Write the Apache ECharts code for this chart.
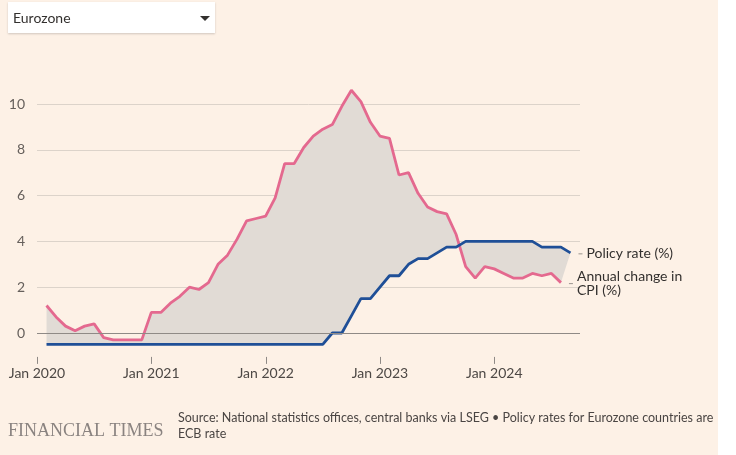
<!DOCTYPE html>
<html lang="en">

<head>
    <meta charset="UTF-8">
    <title>Eurozone policy rate vs CPI</title>
    <style>
        body {
            margin: 0;
            background: #fff;
        }

        #chart {
            width: 718px;
            height: 455px;
        }
    </style>
    <script src="https://cdn.jsdelivr.net/npm/echarts@6/dist/echarts.min.js"></script>
</head>

<body>
    <div id="chart"></div>
    <script>
        // months from Feb 2020 (x = 1, Jan 2020 = 0)
        var months = [
            'Feb 2020', 'Mar 2020', 'Apr 2020', 'May 2020', 'Jun 2020', 'Jul 2020', 'Aug 2020', 'Sep 2020', 'Oct 2020', 'Nov 2020', 'Dec 2020',
            'Jan 2021', 'Feb 2021', 'Mar 2021', 'Apr 2021', 'May 2021', 'Jun 2021', 'Jul 2021', 'Aug 2021', 'Sep 2021', 'Oct 2021', 'Nov 2021', 'Dec 2021',
            'Jan 2022', 'Feb 2022', 'Mar 2022', 'Apr 2022', 'May 2022', 'Jun 2022', 'Jul 2022', 'Aug 2022', 'Sep 2022', 'Oct 2022', 'Nov 2022', 'Dec 2022',
            'Jan 2023', 'Feb 2023', 'Mar 2023', 'Apr 2023', 'May 2023', 'Jun 2023', 'Jul 2023', 'Aug 2023', 'Sep 2023', 'Oct 2023', 'Nov 2023', 'Dec 2023',
            'Jan 2024', 'Feb 2024', 'Mar 2024', 'Apr 2024', 'May 2024', 'Jun 2024', 'Jul 2024', 'Aug 2024', 'Sep 2024'
        ];
        var cpi = [
            1.2, 0.7, 0.3, 0.1, 0.3, 0.4, -0.2, -0.3, -0.3, -0.3, -0.3,
            0.9, 0.9, 1.3, 1.6, 2.0, 1.9, 2.2, 3.0, 3.4, 4.1, 4.9, 5.0,
            5.1, 5.9, 7.4, 7.4, 8.1, 8.6, 8.9, 9.1, 9.9, 10.6, 10.1, 9.2,
            8.6, 8.5, 6.9, 7.0, 6.1, 5.5, 5.3, 5.2, 4.3, 2.9, 2.4, 2.9,
            2.8, 2.6, 2.4, 2.4, 2.6, 2.5, 2.6, 2.2
        ];
        var policy = [
            -0.5, -0.5, -0.5, -0.5, -0.5, -0.5, -0.5, -0.5, -0.5, -0.5, -0.5,
            -0.5, -0.5, -0.5, -0.5, -0.5, -0.5, -0.5, -0.5, -0.5, -0.5, -0.5, -0.5,
            -0.5, -0.5, -0.5, -0.5, -0.5, -0.5, -0.5, 0, 0, 0.75, 1.5, 1.5,
            2.0, 2.5, 2.5, 3.0, 3.25, 3.25, 3.5, 3.75, 3.75, 4.0, 4.0, 4.0,
            4.0, 4.0, 4.0, 4.0, 4.0, 3.75, 3.75, 3.75, 3.5
        ];
        var xTicks = [0, 12, 24, 36, 48];
        var xTickLabels = ['Jan 2020', 'Jan 2021', 'Jan 2022', 'Jan 2023', 'Jan 2024'];
        var yTicks = [0, 2, 4, 6, 8, 10];

        var font = 'Lato, "Liberation Sans", sans-serif';

        function toPoints(arr) {
            return arr.map(function (v, i) {
                return [i + 1, v];
            });
        }

        var chart = echarts.init(document.getElementById('chart'));
        chart.setOption({
            backgroundColor: '#fdf1e6',
            animation: false,
            grid: {
                left: 37,
                right: 138,
                top: 58.2,
                bottom: 76.2
            },
            xAxis: {
                type: 'value',
                min: 0,
                max: 57,
                interval: 12,
                offset: -22,
                axisLine: { show: false },
                splitLine: { show: false },
                axisTick: { show: false },
                axisLabel: {
                    margin: 10,
                    customValues: xTicks,
                    color: '#4d4845',
                    fontSize: 14,
                    fontFamily: font,
                    formatter: function (v) {
                        var k = xTicks.indexOf(v);
                        return k >= 0 ? xTickLabels[k] : '';
                    }
                }
            },
            yAxis: {
                type: 'value',
                min: -2,
                max: 12,
                interval: 2,
                axisLine: { show: false },
                axisTick: { show: false },
                axisLabel: {
                    margin: 12,
                    color: '#66605c',
                    fontSize: 14,
                    fontFamily: font,
                    formatter: function (v) {
                        return yTicks.indexOf(v) >= 0 ? String(v) : '';
                    }
                },
                splitLine: {
                    show: true,
                    showMinLine: false,
                    showMaxLine: false,
                    lineStyle: { color: '#dcd3ca', width: 1 }
                }
            },
            series: [
                {
                    // shaded gap between the two lines, x ticks and label leaders
                    type: 'custom',
                    z: 1,
                    silent: true,
                    data: [[0, 0]],
                    renderItem: function (params, api) {
                        var pts = [];
                        policy.forEach(function (v, i) {
                            pts.push(api.coord([i + 1, v]));
                        });
                        for (var i = cpi.length - 1; i >= 0; i--) {
                            pts.push(api.coord([i + 1, cpi[i]]));
                        }
                        var pEnd = api.coord([policy.length, policy[policy.length - 1]]);
                        var cEnd = api.coord([cpi.length, cpi[cpi.length - 1]]);
                        var children = [
                            {
                                type: 'polygon',
                                shape: { points: pts },
                                style: { fill: '#e1dbd5' }
                            },
                            {
                                type: 'line',
                                shape: { x1: pEnd[0] + 8, y1: pEnd[1] + 1, x2: pEnd[0] + 12, y2: pEnd[1] + 1 },
                                style: { stroke: '#9a948f', lineWidth: 1 }
                            },
                            {
                                type: 'line',
                                shape: { x1: cEnd[0] + 8, y1: cEnd[1] + 1, x2: cEnd[0] + 12, y2: cEnd[1] + 1 },
                                style: { stroke: '#9a948f', lineWidth: 1 }
                            }
                        ];
                        xTicks.forEach(function (t) {
                            var p = api.coord([t, -1]);
                            children.push({
                                type: 'line',
                                shape: { x1: Math.round(p[0]) + 0.5, y1: p[1] + 1, x2: Math.round(p[0]) + 0.5, y2: p[1] + 8 },
                                style: { stroke: '#8f8a86', lineWidth: 1 }
                            });
                        });
                        return { type: 'group', children: children };
                    }
                },
                {
                    name: 'Zero',
                    type: 'line',
                    z: 2,
                    data: [],
                    markLine: {
                        silent: true,
                        symbol: 'none',
                        label: { show: false },
                        lineStyle: { color: '#8f8a86', width: 1.2, type: 'solid' },
                        data: [{ yAxis: 0 }]
                    }
                },
                {
                    name: 'Annual change in CPI (%)',
                    type: 'line',
                    z: 3,
                    symbol: 'none',
                    lineStyle: { color: '#e4698f', width: 2.8 },
                    itemStyle: { color: '#e4698f' },
                    endLabel: {
                        show: true,
                        distance: 16,
                        offset: [0, 1],
                        color: '#33302e',
                        fontSize: 14,
                        lineHeight: 14,
                        fontFamily: font,
                        formatter: 'Annual change in\nCPI (%)'
                    },
                    data: toPoints(cpi)
                },
                {
                    name: 'Policy rate (%)',
                    type: 'line',
                    z: 4,
                    symbol: 'none',
                    lineStyle: { color: '#1f4f97', width: 2.8 },
                    itemStyle: { color: '#1f4f97' },
                    endLabel: {
                        show: true,
                        distance: 16,
                        offset: [0, 1],
                        color: '#33302e',
                        fontSize: 14,
                        fontFamily: font,
                        formatter: 'Policy rate (%)'
                    },
                    data: toPoints(policy)
                }
            ],
            graphic: [
                {
                    type: 'rect',
                    shape: { x: 8, y: 2, width: 207, height: 31 },
                    style: {
                        fill: '#fff',
                        shadowBlur: 2,
                        shadowOffsetY: 1,
                        shadowColor: 'rgba(0,0,0,0.18)'
                    }
                },
                {
                    type: 'text',
                    x: 13,
                    y: 18,
                    style: {
                        text: 'Eurozone',
                        fill: '#33302e',
                        font: '14px ' + font,
                        verticalAlign: 'middle'
                    }
                },
                {
                    type: 'polygon',
                    shape: { points: [[200, 16], [210, 16], [205, 21]] },
                    style: { fill: '#33302e' }
                },
                {
                    type: 'text',
                    x: 8,
                    y: 431,
                    style: {
                        text: 'FINANCIAL TIMES',
                        fill: '#8a8380',
                        font: '18px "Liberation Serif", "DejaVu Serif", serif',
                        verticalAlign: 'middle'
                    }
                },
                {
                    type: 'text',
                    x: 178,
                    y: 426,
                    style: {
                        text: 'Source: National statistics offices, central banks via LSEG \u2022 Policy rates for Eurozone countries are\nECB rate',
                        fill: '#4a4543',
                        font: '12.5px ' + font,
                        lineHeight: 16,
                        verticalAlign: 'middle'
                    }
                }
            ]
        });
    </script>
</body>

</html>
